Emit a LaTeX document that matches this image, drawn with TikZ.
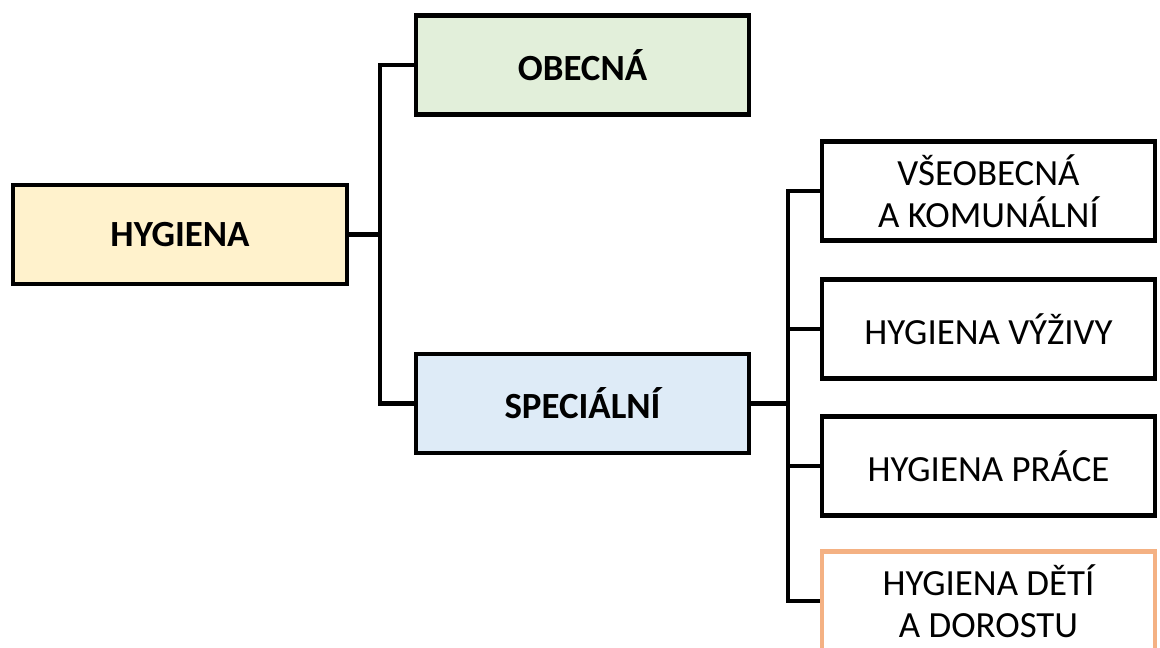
\documentclass[tikz,border=0pt]{standalone}
\usepackage{fontspec}
\setmainfont{Carlito}
\definecolor{hygfill}{HTML}{FFF2CC}
\definecolor{obecfill}{HTML}{E2EFDA}
\definecolor{specfill}{HTML}{DEEBF7}
\definecolor{detiline}{HTML}{F4B183}
\begin{document}
\begin{tikzpicture}[x=0.02cm, y=-0.02cm,
    box/.style={draw=black, line width=2.3pt, minimum width=6.68cm, minimum height=1.98cm,
        inner sep=0pt, align=center, font=\fontsize{21}{24}\selectfont},
    bbox/.style={box, font=\fontsize{21}{24}\selectfont\bfseries},
    link/.style={line width=2.3pt}]
    
    \clip (0,0) rectangle (1160,648);
    
    \node[bbox, fill=hygfill] (hyg) at (180,234.5) {HYGIENA};
    \node[bbox, fill=obecfill] (obec) at (582.5,65) {OBECNÁ};
    \node[bbox, fill=specfill] (spec) at (582.5,403.5) {SPECIÁLNÍ};
    
    \node[box] (vseob) at (988.5,191) {VŠEOBECNÁ\\A KOMUNÁLNÍ};
    \node[box] (vyziva) at (988.5,329) {HYGIENA VÝŽIVY};
    \node[box] (prace) at (988.5,466) {HYGIENA PRÁCE};
    \node[box, draw=detiline] (deti) at (988.5,601) {HYGIENA DĚTÍ\\A DOROSTU};
    
    \coordinate (fork1) at (380,234.5);
    \coordinate (fork2) at (788,403.5);
    
    \draw[link] (hyg.east) -- (fork1);
    \draw[link] (obec.west) -| (fork1);
    \draw[link] (spec.west) -| (fork1);
    
    \draw[link] (spec.east) -- (fork2);
    \foreach \n in {vseob,vyziva,prace,deti}
        \draw[link] (\n.west) -| (fork2);
    
\end{tikzpicture}
\end{document}
